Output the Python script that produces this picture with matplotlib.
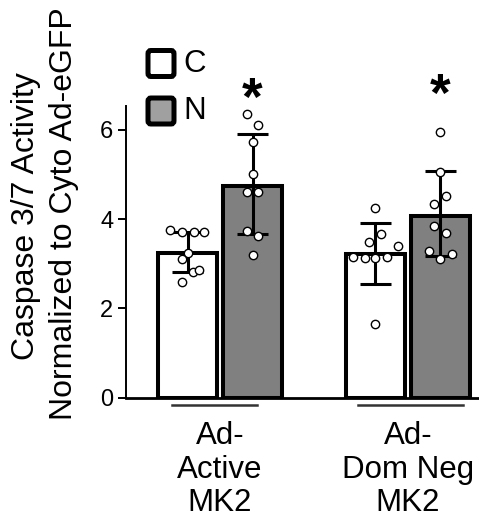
import numpy as np
import matplotlib
matplotlib.use("Agg")
import matplotlib.pyplot as plt
from matplotlib.patches import FancyBboxPatch

plt.rcParams["font.family"] = ["Liberation Sans", "DejaVu Sans"]

# group labels and condition names
groups = ["Ad-\nActive\nMK2", "Ad-\nDom Neg\nMK2"]
conditions = ["C", "N"]

# bar means and error bar limits (SD)
means_c = [3.24, 3.21]
means_n = [4.74, 4.07]
err_lo_c = [2.81, 2.54]
err_hi_c = [3.71, 3.90]
err_lo_n = [3.66, 3.17]
err_hi_n = [5.90, 5.08]

# individual points (value, x jitter)
pts_c1 = [3.76, 3.70, 3.70, 3.72, 3.24, 3.10, 2.81, 2.86, 2.58]
jit_c1 = [-0.093, -0.032, 0.032, 0.090, 0.0, -0.032, 0.027, 0.061, -0.032]
pts_n1 = [6.34, 6.10, 5.73, 5.00, 4.61, 4.61, 3.74, 3.62, 3.20]
jit_n1 = [-0.032, 0.027, 0.0, 0.0, -0.032, 0.027, -0.032, 0.027, 0.0]
pts_c2 = [4.25, 3.66, 3.48, 3.39, 3.15, 3.12, 3.12, 3.14, 1.65]
jit_c2 = [0.0, 0.032, -0.032, 0.122, -0.117, -0.053, 0.0, 0.064, 0.0]
pts_n2 = [5.94, 5.06, 4.52, 4.33, 3.85, 3.69, 3.28, 3.21, 3.10]
jit_n2 = [0.0, 0.0, 0.032, -0.032, -0.032, 0.032, -0.059, 0.059, 0.0]

fill_c = "white"
fill_n = "#808080"

fig = plt.figure(figsize=(4.79, 5.29), dpi=100)
ax = fig.add_axes([0.2624, 0.2482, 0.7376, 0.5514])

x = np.arange(len(groups))
off = 0.173
w = 0.314

ax.bar(x - off, means_c, w, color=fill_c, edgecolor="black", linewidth=2.9, zorder=2)
ax.bar(x + off, means_n, w, color=fill_n, edgecolor="black", linewidth=2.9, zorder=2)

for xs, lo, hi in [(x - off, err_lo_c, err_hi_c), (x + off, err_lo_n, err_hi_n)]:
    for xi, l, h in zip(xs, lo, hi):
        ax.plot([xi, xi], [l, h], color="black", lw=2.2, zorder=3, solid_capstyle="butt")
        for yy in (l, h):
            ax.plot([xi - 0.083, xi + 0.083], [yy, yy], color="black", lw=2.2, zorder=3,
                    solid_capstyle="butt")

for xc, vals, jit in [(x[0] - off, pts_c1, jit_c1), (x[0] + off, pts_n1, jit_n1),
                      (x[1] - off, pts_c2, jit_c2), (x[1] + off, pts_n2, jit_n2)]:
    ax.plot(xc + np.array(jit), vals, "o", ms=6, mfc="white", mec="black", mew=1.0,
            zorder=4, clip_on=False)

# significance stars
for xi, yy in [(x[0] + off, 6.34), (x[1] + off, 6.42)]:
    ax.text(xi, yy, "*", ha="center", va="baseline", fontsize=38, fontweight="bold",
            clip_on=False)

# group underlines
for x0, x1 in [(-0.257, 0.198), (0.736, 1.294)]:
    ax.plot([x0, x1], [-0.163, -0.163], color="#333333", lw=1.8, clip_on=False)

ax.set_xlim(-0.502, 1.378)
ax.set_ylim(0, 6.53)
ax.set_yticks([0, 2, 4, 6])
ax.tick_params(axis="y", labelsize=17, length=6, width=1.4, pad=3)
ax.set_xticks(x)
ax.set_xticklabels(groups, fontsize=22.5, linespacing=1.15)
ax.tick_params(axis="x", length=0, pad=17)
for s in ["top", "right"]:
    ax.spines[s].set_visible(False)
ax.spines["left"].set_linewidth(1.4)
ax.spines["bottom"].set_linewidth(2.0)

# y label, two lines
fig.text(26 / 479, 1 - 216 / 529, "Caspase 3/7 Activity", rotation=90, ha="center",
         va="center", fontsize=23)
fig.text(64 / 479, 1 - 214 / 529, "Normalized to Cyto Ad-eGFP", rotation=90, ha="center",
         va="center", fontsize=23)

# legend
for (cy, fc, lab) in [(63.5, "white", conditions[0]), (111, "#a0a0a0", conditions[1])]:
    box = FancyBboxPatch((148 / 479, 1 - (cy + 13) / 529), 26 / 479, 26 / 529,
                         boxstyle="round,pad=0,rounding_size=0.006",
                         transform=fig.transFigure, facecolor=fc, edgecolor="black",
                         linewidth=3.6)
    fig.patches.append(box)
    fig.text(183 / 479, 1 - cy / 529, lab, ha="left", va="center", fontsize=22.5)

fig.savefig("out.png", dpi=100)
